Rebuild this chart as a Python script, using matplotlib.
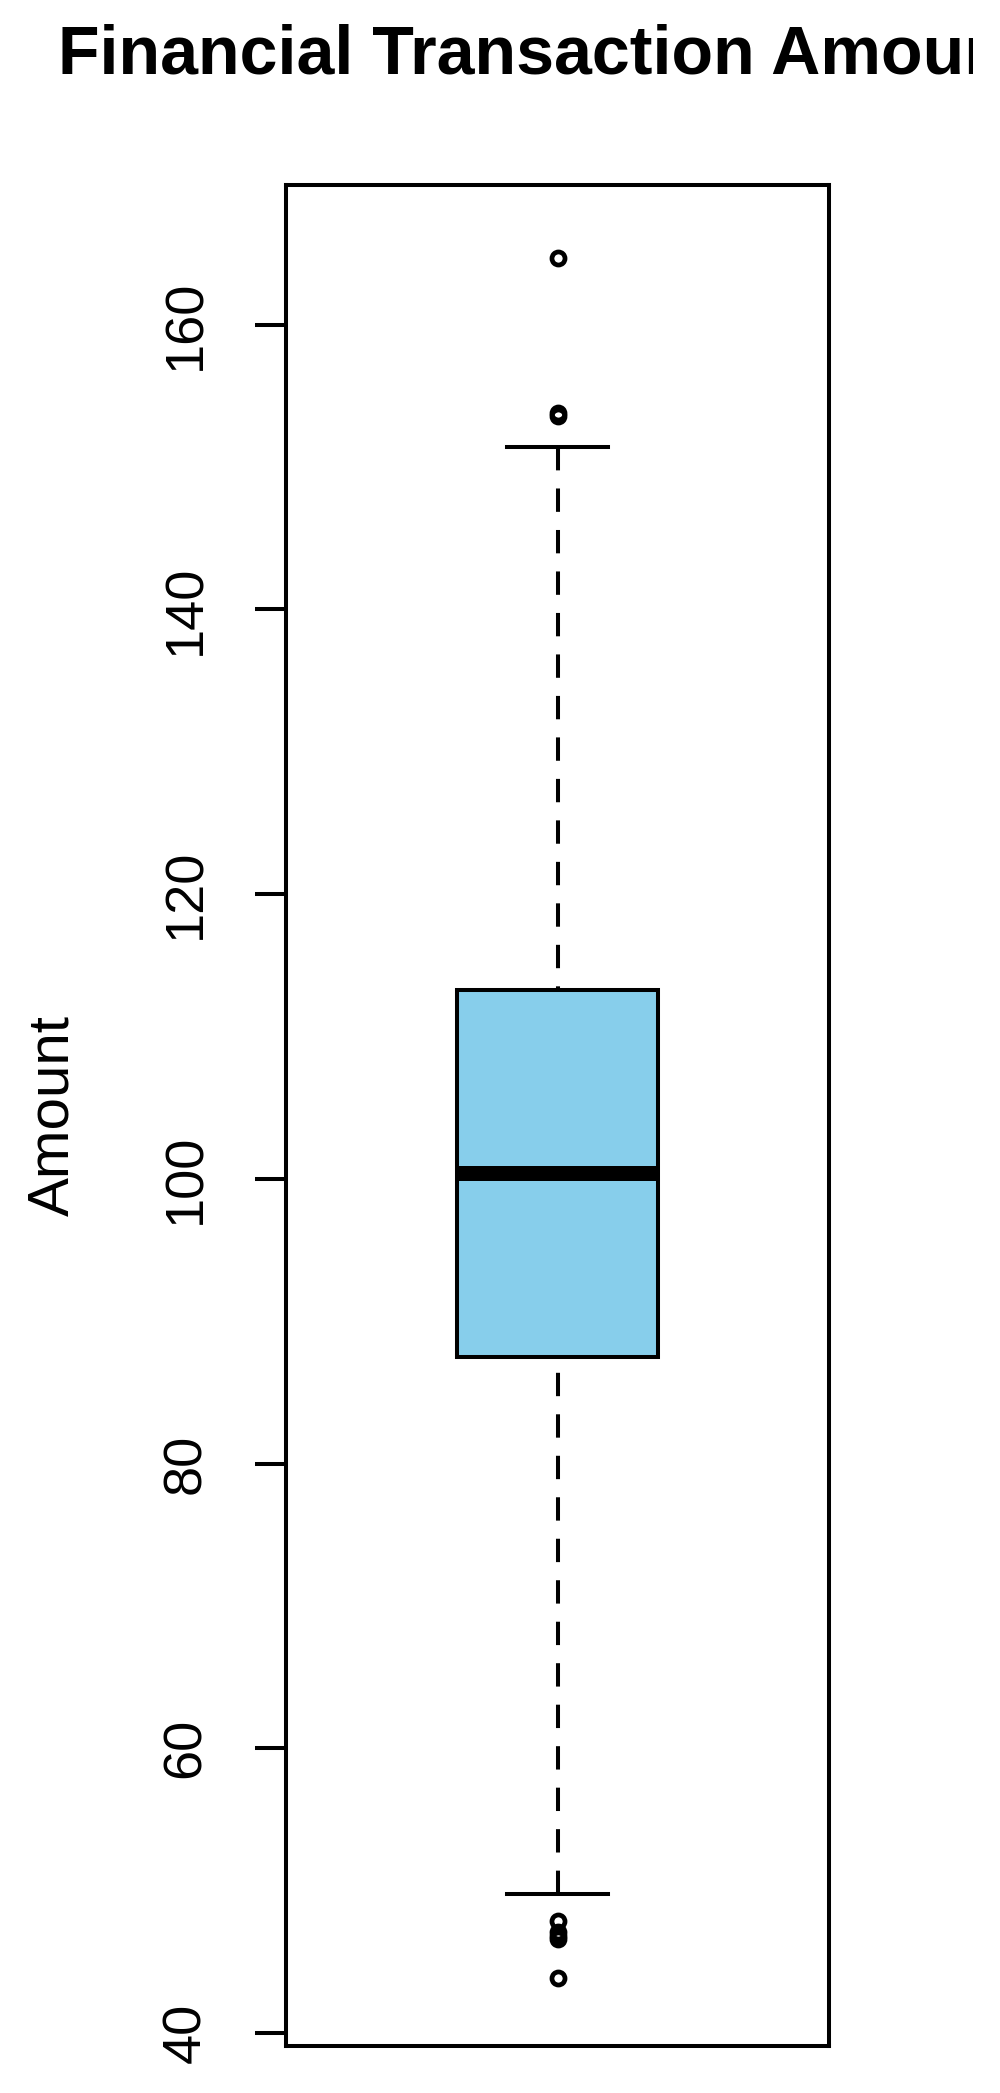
import matplotlib
matplotlib.use("Agg")
import matplotlib.pyplot as plt
from matplotlib.patches import Rectangle

plt.rcParams['font.family'] = ['Liberation Sans', 'DejaVu Sans']

# summary values
title = "Financial Transaction Amounts"
y_label = "Amount"
q1 = 87.5
median = 100.4
q3 = 113.3
whisker_low = 49.8
whisker_high = 151.4
outliers = [164.7, 153.8, 153.6, 47.9, 47.1, 46.8, 46.6, 43.9]
y_ticks = [40, 60, 80, 100, 120, 140, 160]

BOX_COLOR = "#87CEEB"
LW = 2.9

fig = plt.figure(figsize=(10, 20.93), dpi=100)
ax = fig.add_axes([0.286, 0.0225, 0.543, 0.889])

stats = [{
    'med': median, 'q1': q1, 'q3': q3,
    'whislo': whisker_low, 'whishi': whisker_high,
    'fliers': outliers,
}]
parts = ax.bxp(
    stats, positions=[1], widths=0.4, patch_artist=True,
    boxprops=dict(facecolor=BOX_COLOR, edgecolor='black', linewidth=LW),
    medianprops=dict(color='black', linewidth=10.8, solid_capstyle='butt'),
    whiskerprops=dict(color='black', linewidth=LW, linestyle=(0, (5.8, 4.5))),
    capprops=dict(color='black', linewidth=LW),
    flierprops=dict(marker='o', markerfacecolor='none', markeredgecolor='black',
                    markersize=9.4, markeredgewidth=3.4, linestyle='none'),
    capwidths=0.2,
)
# R draws whiskers from the whisker end towards the box
for w in parts['whiskers']:
    w.set_ydata(list(w.get_ydata())[::-1])

ax.set_xlim(0.46, 1.54)
ax.set_ylim(39.1, 169.8)
ax.set_xticks([])
ax.set_yticks(y_ticks)
ax.set_yticklabels([str(t) for t in y_ticks], rotation=90, va='center', fontsize=39)
ax.tick_params(axis='y', length=22, width=LW, pad=32, direction='out')
for s in ax.spines.values():
    s.set_linewidth(LW)

ax.set_ylabel(y_label, fontsize=42, labelpad=58)

fig.text(0.058, 1 - 73 / 2093, title, ha='left', va='baseline',
         fontsize=49.1, fontweight='bold')
# the reference cuts the title off just before the right edge
fig.add_artist(Rectangle((0.973, 0.9), 0.03, 0.1, transform=fig.transFigure,
                         facecolor='white', edgecolor='none', zorder=10))

fig.savefig("out.png", dpi=100)
